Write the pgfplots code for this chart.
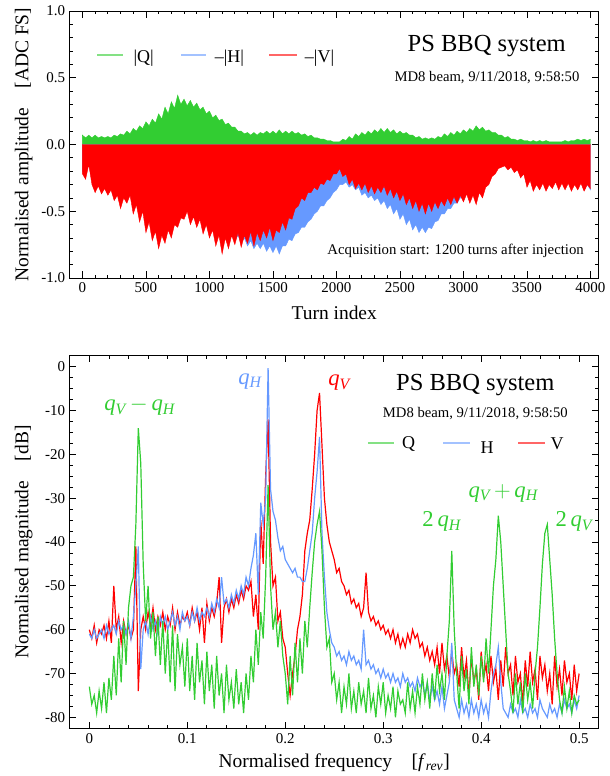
\documentclass[border=0pt]{standalone}
\usepackage{fontspec}
\setmainfont{Liberation Serif}
\usepackage{amsmath}
\usepackage{pgfplots}
\usepackage{pgfplotstable}
\pgfplotsset{compat=1.18}
\definecolor{qgreen}{RGB}{50,205,50}
\definecolor{hblue}{RGB}{102,153,255}
\definecolor{vred}{RGB}{255,0,0}

% time domain, one value every 25 turns (envelopes)
\pgfplotstableread[row sep=\\]{
y\\
0.07\\ 0.05\\ 0.07\\ 0.05\\ 0.07\\ 0.05\\ 0.06\\ 0.05\\
0.06\\ 0.05\\ 0.07\\ 0.06\\ 0.08\\ 0.07\\ 0.10\\ 0.08\\
0.12\\ 0.10\\ 0.14\\ 0.12\\ 0.17\\ 0.14\\ 0.19\\ 0.16\\
0.23\\ 0.19\\ 0.28\\ 0.23\\ 0.32\\ 0.27\\ 0.37\\ 0.30\\
0.34\\ 0.29\\ 0.33\\ 0.28\\ 0.31\\ 0.26\\ 0.28\\ 0.23\\
0.25\\ 0.20\\ 0.22\\ 0.18\\ 0.19\\ 0.15\\ 0.16\\ 0.13\\
0.13\\ 0.10\\ 0.10\\ 0.08\\ 0.09\\ 0.07\\ 0.09\\ 0.07\\
0.09\\ 0.08\\ 0.10\\ 0.08\\ 0.10\\ 0.08\\ 0.11\\ 0.08\\
0.10\\ 0.08\\ 0.10\\ 0.08\\ 0.09\\ 0.07\\ 0.08\\ 0.06\\
0.07\\ 0.05\\ 0.05\\ 0.04\\ 0.04\\ 0.03\\ 0.03\\ 0.02\\
0.02\\ 0.02\\ 0.04\\ 0.03\\ 0.06\\ 0.04\\ 0.08\\ 0.06\\
0.09\\ 0.07\\ 0.10\\ 0.08\\ 0.11\\ 0.09\\ 0.12\\ 0.09\\
0.12\\ 0.09\\ 0.11\\ 0.08\\ 0.10\\ 0.08\\ 0.09\\ 0.07\\
0.07\\ 0.05\\ 0.06\\ 0.04\\ 0.05\\ 0.04\\ 0.05\\ 0.04\\
0.06\\ 0.05\\ 0.08\\ 0.06\\ 0.09\\ 0.07\\ 0.10\\ 0.08\\
0.11\\ 0.09\\ 0.12\\ 0.10\\ 0.14\\ 0.11\\ 0.13\\ 0.10\\
0.11\\ 0.09\\ 0.09\\ 0.07\\ 0.07\\ 0.05\\ 0.06\\ 0.04\\
0.04\\ 0.03\\ 0.04\\ 0.03\\ 0.03\\ 0.02\\ 0.03\\ 0.02\\
0.03\\ 0.02\\ 0.03\\ 0.02\\ 0.02\\ 0.02\\ 0.02\\ 0.02\\
0.03\\ 0.02\\ 0.03\\ 0.03\\ 0.04\\ 0.03\\ 0.04\\ 0.03\\
0.04\\
}\tQ

\pgfplotstableread[row sep=\\]{
y\\
-0.20\\ -0.22\\ -0.14\\ -0.26\\ -0.30\\ -0.28\\ -0.32\\ -0.30\\
-0.34\\ -0.32\\ -0.38\\ -0.35\\ -0.42\\ -0.38\\ -0.40\\ -0.36\\
-0.46\\ -0.42\\ -0.50\\ -0.46\\ -0.58\\ -0.54\\ -0.64\\ -0.60\\
-0.70\\ -0.64\\ -0.66\\ -0.60\\ -0.62\\ -0.56\\ -0.56\\ -0.52\\
-0.52\\ -0.48\\ -0.55\\ -0.50\\ -0.57\\ -0.52\\ -0.60\\ -0.56\\
-0.64\\ -0.60\\ -0.68\\ -0.64\\ -0.72\\ -0.66\\ -0.72\\ -0.68\\
-0.72\\ -0.68\\ -0.74\\ -0.70\\ -0.76\\ -0.72\\ -0.78\\ -0.74\\
-0.78\\ -0.74\\ -0.80\\ -0.76\\ -0.81\\ -0.76\\ -0.82\\ -0.76\\
-0.76\\ -0.71\\ -0.72\\ -0.67\\ -0.66\\ -0.62\\ -0.62\\ -0.58\\
-0.56\\ -0.52\\ -0.50\\ -0.46\\ -0.46\\ -0.42\\ -0.40\\ -0.36\\
-0.34\\ -0.30\\ -0.30\\ -0.28\\ -0.32\\ -0.30\\ -0.34\\ -0.32\\
-0.38\\ -0.36\\ -0.40\\ -0.38\\ -0.42\\ -0.40\\ -0.45\\ -0.42\\
-0.48\\ -0.45\\ -0.52\\ -0.48\\ -0.56\\ -0.52\\ -0.60\\ -0.56\\
-0.64\\ -0.60\\ -0.66\\ -0.62\\ -0.66\\ -0.62\\ -0.63\\ -0.58\\
-0.57\\ -0.52\\ -0.52\\ -0.48\\ -0.48\\ -0.44\\ -0.44\\ -0.40\\
-0.40\\ -0.36\\ -0.40\\ -0.36\\ -0.40\\ -0.34\\ -0.36\\ -0.30\\
-0.27\\ -0.22\\ -0.20\\ -0.17\\ -0.16\\ -0.15\\ -0.18\\ -0.16\\
-0.20\\ -0.18\\ -0.23\\ -0.20\\ -0.29\\ -0.25\\ -0.32\\ -0.28\\
-0.31\\ -0.27\\ -0.32\\ -0.28\\ -0.30\\ -0.26\\ -0.31\\ -0.27\\
-0.31\\ -0.27\\ -0.32\\ -0.28\\ -0.32\\ -0.28\\ -0.34\\ -0.30\\
-0.34\\
}\tH

\pgfplotstableread[row sep=\\]{
y\\
-0.22\\ -0.26\\ -0.15\\ -0.30\\ -0.36\\ -0.31\\ -0.37\\ -0.33\\
-0.38\\ -0.34\\ -0.42\\ -0.38\\ -0.48\\ -0.40\\ -0.44\\ -0.38\\
-0.52\\ -0.45\\ -0.58\\ -0.50\\ -0.66\\ -0.58\\ -0.72\\ -0.65\\
-0.78\\ -0.68\\ -0.74\\ -0.64\\ -0.70\\ -0.60\\ -0.62\\ -0.55\\
-0.56\\ -0.50\\ -0.60\\ -0.54\\ -0.62\\ -0.56\\ -0.67\\ -0.60\\
-0.70\\ -0.64\\ -0.76\\ -0.68\\ -0.82\\ -0.70\\ -0.78\\ -0.68\\
-0.75\\ -0.66\\ -0.77\\ -0.68\\ -0.74\\ -0.65\\ -0.76\\ -0.66\\
-0.72\\ -0.64\\ -0.70\\ -0.62\\ -0.72\\ -0.64\\ -0.66\\ -0.58\\
-0.64\\ -0.55\\ -0.56\\ -0.48\\ -0.46\\ -0.40\\ -0.42\\ -0.36\\
-0.36\\ -0.32\\ -0.34\\ -0.29\\ -0.30\\ -0.26\\ -0.27\\ -0.22\\
-0.22\\ -0.18\\ -0.24\\ -0.22\\ -0.30\\ -0.26\\ -0.33\\ -0.29\\
-0.34\\ -0.29\\ -0.36\\ -0.31\\ -0.37\\ -0.32\\ -0.36\\ -0.31\\
-0.38\\ -0.33\\ -0.40\\ -0.35\\ -0.42\\ -0.37\\ -0.45\\ -0.40\\
-0.48\\ -0.42\\ -0.50\\ -0.44\\ -0.52\\ -0.44\\ -0.50\\ -0.43\\
-0.48\\ -0.42\\ -0.46\\ -0.40\\ -0.45\\ -0.39\\ -0.44\\ -0.38\\
-0.43\\ -0.37\\ -0.44\\ -0.38\\ -0.45\\ -0.36\\ -0.40\\ -0.32\\
-0.30\\ -0.24\\ -0.22\\ -0.18\\ -0.17\\ -0.16\\ -0.19\\ -0.17\\
-0.21\\ -0.19\\ -0.25\\ -0.22\\ -0.32\\ -0.27\\ -0.35\\ -0.30\\
-0.34\\ -0.29\\ -0.35\\ -0.30\\ -0.33\\ -0.28\\ -0.34\\ -0.29\\
-0.34\\ -0.29\\ -0.35\\ -0.30\\ -0.34\\ -0.29\\ -0.35\\ -0.30\\
-0.33\\
}\tV

% spectra, one value every 0.0025 f_rev
\pgfplotstableread[row sep=\\]{
y\\
-73\\ -77\\ -75\\ -79\\ -74\\ -78\\ -72\\ -79\\ -71\\ -76\\
-66\\ -75\\ -62\\ -72\\ -58\\ -68\\ -55\\ -50\\ -48\\ -36\\
-14\\ -22\\ -45\\ -58\\ -50\\ -62\\ -56\\ -66\\ -57\\ -68\\
-58\\ -70\\ -60\\ -72\\ -59\\ -74\\ -61\\ -68\\ -64\\ -73\\
-62\\ -74\\ -66\\ -76\\ -63\\ -72\\ -67\\ -77\\ -65\\ -74\\
-68\\ -78\\ -66\\ -75\\ -70\\ -79\\ -68\\ -76\\ -72\\ -78\\
-69\\ -77\\ -72\\ -79\\ -70\\ -76\\ -66\\ -72\\ -60\\ -68\\
-56\\ -62\\ -48\\ -27\\ -50\\ -60\\ -56\\ -64\\ -58\\ -66\\
-70\\ -77\\ -66\\ -75\\ -63\\ -72\\ -62\\ -70\\ -58\\ -64\\
-55\\ -47\\ -40\\ -36\\ -33\\ -42\\ -55\\ -64\\ -62\\ -72\\
-70\\ -76\\ -72\\ -79\\ -73\\ -77\\ -70\\ -78\\ -74\\ -79\\
-72\\ -77\\ -74\\ -79\\ -71\\ -78\\ -75\\ -80\\ -73\\ -77\\
-72\\ -79\\ -75\\ -78\\ -73\\ -80\\ -74\\ -77\\ -76\\ -79\\
-72\\ -78\\ -74\\ -79\\ -73\\ -77\\ -70\\ -76\\ -72\\ -78\\
-70\\ -76\\ -68\\ -74\\ -70\\ -76\\ -66\\ -58\\ -42\\ -60\\
-70\\ -78\\ -66\\ -74\\ -69\\ -77\\ -64\\ -73\\ -68\\ -75\\
-66\\ -72\\ -62\\ -70\\ -60\\ -50\\ -44\\ -34\\ -40\\ -50\\
-60\\ -70\\ -74\\ -79\\ -70\\ -77\\ -72\\ -79\\ -70\\ -76\\
-72\\ -78\\ -70\\ -64\\ -55\\ -45\\ -38\\ -36\\ -44\\ -52\\
-62\\ -70\\ -76\\ -79\\ -73\\ -78\\ -74\\ -79\\ -75\\ -77\\
-76\\
}\sQ

\pgfplotstableread[row sep=\\]{
y\\
-61\\ -62\\ -60\\ -62\\ -61\\ -60\\ -62\\ -59\\ -61\\ -60\\
-59\\ -61\\ -58\\ -60\\ -59\\ -61\\ -58\\ -62\\ -57\\ -50\\
-41\\ -69\\ -60\\ -58\\ -61\\ -57\\ -60\\ -58\\ -61\\ -57\\
-59\\ -57\\ -60\\ -58\\ -56\\ -59\\ -57\\ -60\\ -56\\ -58\\
-57\\ -59\\ -56\\ -58\\ -55\\ -58\\ -56\\ -57\\ -55\\ -57\\
-54\\ -56\\ -53\\ -55\\ -48\\ -54\\ -53\\ -55\\ -52\\ -54\\
-51\\ -53\\ -50\\ -52\\ -48\\ -50\\ -46\\ -43\\ -38\\ -52\\
-31\\ -36\\ -30\\ -0.3\\ -28\\ -33\\ -35\\ -39\\ -42\\ -41\\
-44\\ -45\\ -46\\ -47\\ -46\\ -48\\ -48\\ -49\\ -49\\ -46\\
-42\\ -38\\ -30\\ -24\\ -16\\ -38\\ -48\\ -56\\ -60\\ -63\\
-64\\ -66\\ -65\\ -67\\ -66\\ -68\\ -65\\ -67\\ -66\\ -68\\
-67\\ -69\\ -60\\ -68\\ -67\\ -69\\ -68\\ -70\\ -69\\ -71\\
-69\\ -71\\ -70\\ -72\\ -70\\ -72\\ -71\\ -73\\ -70\\ -72\\
-71\\ -73\\ -72\\ -74\\ -71\\ -73\\ -72\\ -75\\ -72\\ -76\\
-73\\ -76\\ -74\\ -77\\ -73\\ -78\\ -75\\ -72\\ -63\\ -76\\
-78\\ -80\\ -76\\ -79\\ -77\\ -80\\ -76\\ -79\\ -77\\ -80\\
-76\\ -79\\ -77\\ -80\\ -74\\ -70\\ -68\\ -64\\ -72\\ -78\\
-79\\ -80\\ -77\\ -79\\ -78\\ -80\\ -76\\ -79\\ -78\\ -80\\
-77\\ -79\\ -78\\ -80\\ -76\\ -78\\ -79\\ -80\\ -77\\ -79\\
-78\\ -80\\ -77\\ -79\\ -76\\ -78\\ -77\\ -79\\ -76\\ -78\\
-75\\
}\sH

\pgfplotstableread[row sep=\\]{
y\\
-60\\ -62\\ -59\\ -63\\ -60\\ -61\\ -59\\ -62\\ -58\\ -63\\
-50\\ -60\\ -57\\ -63\\ -58\\ -61\\ -59\\ -62\\ -60\\ -41\\
-74\\ -60\\ -57\\ -60\\ -56\\ -59\\ -55\\ -60\\ -57\\ -59\\
-56\\ -60\\ -57\\ -59\\ -55\\ -60\\ -56\\ -59\\ -57\\ -58\\
-56\\ -59\\ -55\\ -58\\ -56\\ -60\\ -55\\ -63\\ -54\\ -58\\
-55\\ -57\\ -54\\ -48\\ -63\\ -55\\ -53\\ -56\\ -53\\ -55\\
-52\\ -54\\ -51\\ -53\\ -50\\ -51\\ -49\\ -57\\ -52\\ -60\\
-35\\ -45\\ -25\\ -12\\ -40\\ -50\\ -48\\ -58\\ -56\\ -62\\
-64\\ -70\\ -75\\ -70\\ -66\\ -60\\ -57\\ -52\\ -42\\ -38\\
-35\\ -28\\ -20\\ -10\\ -6\\ -18\\ -30\\ -36\\ -40\\ -42\\
-44\\ -47\\ -46\\ -49\\ -50\\ -52\\ -51\\ -54\\ -53\\ -55\\
-54\\ -57\\ -55\\ -47\\ -56\\ -58\\ -57\\ -59\\ -58\\ -60\\
-59\\ -61\\ -60\\ -62\\ -60\\ -63\\ -61\\ -64\\ -62\\ -64\\
-61\\ -63\\ -60\\ -62\\ -61\\ -64\\ -63\\ -66\\ -64\\ -67\\
-65\\ -68\\ -64\\ -70\\ -63\\ -69\\ -66\\ -71\\ -65\\ -70\\
-68\\ -73\\ -64\\ -71\\ -67\\ -75\\ -66\\ -72\\ -69\\ -76\\
-65\\ -71\\ -68\\ -74\\ -66\\ -72\\ -69\\ -76\\ -67\\ -73\\
-64\\ -70\\ -68\\ -75\\ -66\\ -72\\ -70\\ -77\\ -67\\ -73\\
-65\\ -72\\ -69\\ -76\\ -66\\ -71\\ -68\\ -74\\ -70\\ -77\\
-66\\ -73\\ -69\\ -75\\ -67\\ -72\\ -70\\ -76\\ -68\\ -74\\
-70\\
}\sV

\pgfplotsset{bbq/.style={
  scale only axis, width=396.75pt,
  axis line style={line width=0.75pt},
  every tick/.style={black,line width=0.6pt},
  major tick length=5pt, minor tick length=2.5pt,
  tick align=inside,
  tick label style={font=\fontsize{11.25}{13}\selectfont},
  label style={font=\fontsize{14.6}{17}\selectfont},
  /pgf/number format/assume math mode=true,
  /pgf/number format/1000 sep={},
}}

\begin{document}
\begin{tikzpicture}
\begin{axis}[bbq, at={(52.3pt,-8.25pt)}, anchor=north west, height=200.25pt,
  xmin=-100, xmax=4065, ymin=-1, ymax=1,
  xtick={0,500,...,4000}, minor x tick num=4,
  ytick={-1,-0.5,0,0.5,1}, minor y tick num=4,
  yticklabel style={/pgf/number format/.cd, fixed, fixed zerofill, precision=1},
  xlabel={Turn index},
  ylabel={Normalised amplitude\quad[ADC FS]},
  xlabel style={at={(axis description cs:0.5,-0.131)}, anchor=center},
  ylabel style={at={(axis description cs:-0.087,0.5)}, anchor=center},
]
  \addplot[draw=qgreen, fill=qgreen, line width=0.3pt] table[x expr=\coordindex*25, y=y] {\tQ} \closedcycle;
  \addplot[draw=hblue, fill=hblue, line width=0.3pt] table[x expr=\coordindex*25, y=y] {\tH} \closedcycle;
  \addplot[draw=vred, fill=vred, line width=0.3pt] table[x expr=\coordindex*25, y=y] {\tV} \closedcycle;

  % legend
  \draw[qgreen!60, line width=1pt] (axis cs:118,0.67) -- (axis cs:322,0.67);
  \node[anchor=west, inner sep=0pt, font=\fontsize{13.5}{16}\selectfont] at (axis cs:400,0.65) {|Q|};
  \draw[hblue!60, line width=1pt] (axis cs:778,0.67) -- (axis cs:974,0.67);
  \node[anchor=west, inner sep=0pt, font=\fontsize{13.5}{16}\selectfont] at (axis cs:1040,0.65) {\textendash|H|};
  \draw[vred!60, line width=1pt] (axis cs:1470,0.67) -- (axis cs:1690,0.67);
  \node[anchor=west, inner sep=0pt, font=\fontsize{13.5}{16}\selectfont] at (axis cs:1750,0.65) {\textendash|V|};

  \node[font=\fontsize{18.4}{22}\selectfont] at (axis cs:3183,0.735) {PS BBQ system};
  \node[font=\fontsize{11}{13}\selectfont] at (axis cs:3185,0.505) {MD8 beam, 9/11/2018, 9:58:50};
  \node[font=\fontsize{11.1}{13}\selectfont] at (axis cs:2938,-0.795) {Acquisition start: 1200 turns after injection};
\end{axis}

\begin{axis}[bbq, at={(52.3pt,-266.8pt)}, anchor=north west, height=279.45pt,
  xmin=-0.02, xmax=0.52, ymin=-82.5, ymax=2.5,
  xtick={0,0.1,0.2,0.3,0.4,0.5}, minor x tick num=4,
  ytick={-80,-70,-60,-50,-40,-30,-20,-10,0}, minor y tick num=3,
  xlabel={Normalised frequency\quad[\textit{f}$_{\textit{rev}}$]},
  ylabel={Normalised magnitude\quad[dB]},
  xlabel style={at={(axis description cs:0.5,-0.093)}, anchor=center},
  ylabel style={at={(axis description cs:-0.087,0.5)}, anchor=center},
]
  \addplot[vred, line width=0.9pt] table[x expr=\coordindex*0.0025, y=y] {\sV};
  \addplot[hblue, line width=0.9pt] table[x expr=\coordindex*0.0025, y=y] {\sH};
  \addplot[qgreen, line width=0.9pt] table[x expr=\coordindex*0.0025, y=y] {\sQ};

  \node[font=\fontsize{18.4}{22}\selectfont] at (axis cs:0.394,-4.2) {PS BBQ system};
  \node[font=\fontsize{11}{13}\selectfont] at (axis cs:0.394,-10.65) {MD8 beam, 9/11/2018, 9:58:50};

  % legend
  \draw[qgreen!60, line width=1pt] (axis cs:0.2843,-17.4) -- (axis cs:0.3115,-17.4);
  \node[anchor=west, inner sep=0pt, font=\fontsize{13.5}{16}\selectfont] at (axis cs:0.319,-17.6) {Q};
  \draw[hblue!60, line width=1pt] (axis cs:0.3612,-17.4) -- (axis cs:0.3888,-17.4);
  \node[anchor=west, inner sep=0pt, font=\fontsize{13.5}{16}\selectfont] at (axis cs:0.3991,-18.4) {H};
  \draw[vred!60, line width=1pt] (axis cs:0.4379,-17.4) -- (axis cs:0.4655,-17.4);
  \node[anchor=west, inner sep=0pt, font=\fontsize{13.5}{16}\selectfont] at (axis cs:0.4706,-17.6) {V};

  % peak labels
  \node[qgreen, font=\fontsize{17}{20}\selectfont] at (axis cs:0.0514,-9.1) {\textit{q}$_{\textit{V}}$\,$-$\,\textit{q}$_{\textit{H}}$};
  \node[hblue, font=\fontsize{17}{20}\selectfont] at (axis cs:0.164,-3.4) {\textit{q}$_{\textit{H}}$};
  \node[vred, font=\fontsize{17}{20}\selectfont] at (axis cs:0.255,-3.7) {\textit{q}$_{\textit{V}}$};
  \node[qgreen, font=\fontsize{17}{20}\selectfont] at (axis cs:0.3597,-35.4) {2\,\textit{q}$_{\textit{H}}$};
  \node[qgreen, font=\fontsize{17}{20}\selectfont] at (axis cs:0.4226,-28.9) {\textit{q}$_{\textit{V}}$\,$+$\,\textit{q}$_{\textit{H}}$};
  \node[qgreen, font=\fontsize{17}{20}\selectfont] at (axis cs:0.4947,-35.4) {2\,\textit{q}$_{\textit{V}}$};
\end{axis}
\pgfresetboundingbox
\useasboundingbox (0,0) rectangle (457.5pt,-582pt);
\end{tikzpicture}
\end{document}
